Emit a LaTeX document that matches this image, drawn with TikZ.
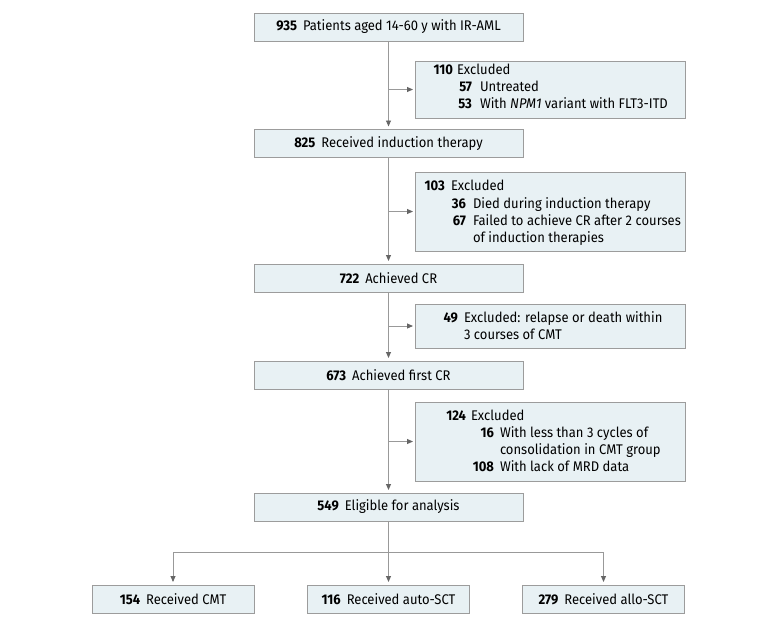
\documentclass[tikz,border=0pt]{standalone}
\usepackage{fontspec}
\setmainfont{Fira Sans}[FakeStretch=0.93]
\usetikzlibrary{arrows.meta}
\definecolor{boxfill}{HTML}{E8F1F4}
\definecolor{boxline}{HTML}{9C9C9C}
\definecolor{lineclr}{HTML}{999999}
\definecolor{tipclr}{HTML}{666666}
\tikzset{
  txtfont/.style={font=\fontsize{14}{17}\selectfont},
  box/.style={draw=boxline, fill=boxfill, line width=0.9pt, inner sep=0pt, outer sep=0pt},
  mbox/.style={box, minimum width=269pt, minimum height=28pt, txtfont},
  cbox/.style={box, minimum width=162pt, minimum height=28pt, txtfont},
  ebox/.style={box, minimum width=270pt},
  lbl/.style={inner sep=0pt, outer sep=0pt, txtfont},
  nl/.style={lbl, anchor=base east, font=\fontsize{14}{17}\selectfont\bfseries},
  tl/.style={lbl, anchor=base west},
  conn/.style={draw=lineclr, line width=0.9pt, -{Triangle[length=6pt,width=5pt,color=tipclr]}, shorten >=3pt},
  hconn/.style={conn, shorten >=2pt},
  plain/.style={draw=lineclr, line width=0.9pt},
}
\newcommand{\nb}[1]{\textbf{#1}\hspace{6pt}}
\begin{document}
\begin{tikzpicture}[x=1pt,y=-1pt]
\useasboundingbox (0,0) rectangle (780,627);
% main column
\node[mbox] (b1) at (388.5,27) {\nb{935}Patients aged 14-60 y with IR-AML};
\node[mbox] (b2) at (388.5,143.5) {\nb{825}Received induction therapy};
\node[mbox] (b3) at (388.5,278) {\nb{722}Achieved CR};
\node[mbox] (b4) at (388.5,375) {\nb{673}Achieved first CR};
\node[mbox] (b5) at (388.5,507) {\nb{549}Eligible for analysis};
% bottom
\node[cbox] (c1) at (173,599) {\nb{154}Received CMT};
\node[cbox] (c2) at (388.5,599) {\nb{116}Received auto-SCT};
\node[cbox] (c3) at (603.5,599) {\nb{279}Received allo-SCT};
% exclusion boxes
\node[ebox, minimum height=57pt] (e1) at (550,89.5) {};
\node[ebox, minimum height=79pt] (e2) at (550,211.5) {};
\node[ebox, minimum height=44pt] (e3) at (550,326) {};
\node[ebox, minimum height=79pt] (e4) at (550,441.5) {};
% e1 text
\node[nl] (e1n1) at (453,74) {110};
\node[tl] (e1t1) at (457,74) {Excluded};
\node[nl] (e1n2) at (472,91) {57};
\node[tl] (e1t2) at (480,91) {Untreated};
\node[nl] (e1n3) at (472,108) {53};
\node[tl] (e1t3) at (480,108) {With \textit{NPM1} variant with FLT3-ITD};
% e2 text
\node[nl] (e2n1) at (445,190) {103};
\node[tl] (e2t1) at (451,190) {Excluded};
\node[nl] (e2n2) at (466,208) {36};
\node[tl] (e2t2) at (473,208) {Died during induction therapy};
\node[nl] (e2n3) at (466,225) {67};
\node[tl] (e2t3) at (473,225) {Failed to achieve CR after 2 courses};
\node[tl] (e2t4) at (473,242) {of induction therapies};
% e3 text
\node[nl] (e3n1) at (458,322) {49};
\node[tl] (e3t1) at (464,322) {Excluded: relapse or death within};
\node[tl] (e3t2) at (464,339) {3 courses of CMT};
% e4 text
\node[nl] (e4n1) at (466,420) {124};
\node[tl] (e4t1) at (471,420) {Excluded};
\node[nl] (e4n2) at (494,437) {16};
\node[tl] (e4t2) at (500,437) {With less than 3 cycles of};
\node[tl] (e4t3) at (500,454) {consolidation in CMT group};
\node[nl] (e4n3) at (494,471) {108};
\node[tl] (e4t4) at (500,471) {With lack of MRD data};
% connectors
\draw[conn] (b1) -- (b2);
\draw[conn] (b2) -- (b3);
\draw[conn] (b3) -- (b4);
\draw[conn] (b4) -- (b5);
\draw[hconn] (b1.south |- e1.west) -- (e1.west);
\draw[hconn] (b2.south |- e2.west) -- (e2.west);
\draw[hconn] (b3.south |- e3.west) -- (e3.west);
\draw[hconn] (b4.south |- e4.west) -- (e4.west);
\coordinate (split) at (388.5,552);
\draw[plain] (b5.south) -- (split);
\draw[conn] (split) -| (c1.north);
\draw[conn] (split) -- (c2.north);
\draw[conn] (split) -| (c3.north);
\end{tikzpicture}
\end{document}
